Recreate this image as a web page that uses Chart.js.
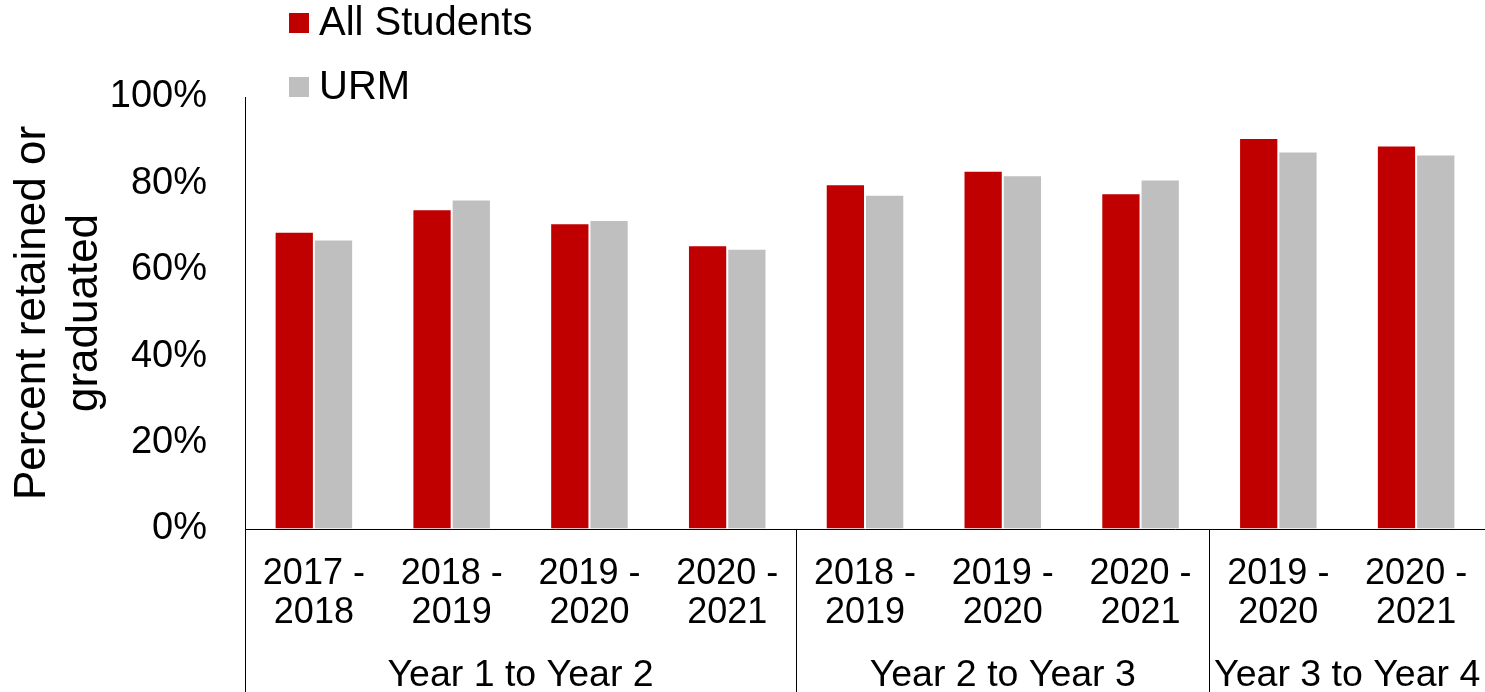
<!DOCTYPE html>
<html>
<head>
<meta charset="utf-8">
<script src="https://cdn.jsdelivr.net/npm/chart.js@4.4.1/dist/chart.umd.min.js"></script>
<style>
  html, body { margin: 0; padding: 0; background: #fff; }
  #wrap { width: 1485px; height: 692px; position: relative; }
</style>
</head>
<body>
<div id="wrap"><canvas id="retentionChart"></canvas></div>
<script>
// categories (academic years) and their cohort groups
const categories = [
  ["2017 -", "2018"], ["2018 -", "2019"], ["2019 -", "2020"], ["2020 -", "2021"],
  ["2018 -", "2019"], ["2019 -", "2020"], ["2020 -", "2021"],
  ["2019 -", "2020"], ["2020 -", "2021"]
];
const groupLabels = ["Year 1 to Year 2", "Year 2 to Year 3", "Year 3 to Year 4"];
const groupSizes = [4, 3, 2];

// percent retained or graduated
const allStudents = [68.8, 74.0, 70.8, 65.7, 79.8, 82.9, 77.7, 90.5, 88.8];
const urm = [67.0, 76.3, 71.5, 64.9, 77.4, 81.9, 80.9, 87.4, 86.7];

const yTicks = [0, 20, 40, 60, 80, 100];

const FONT = '"Liberation Sans", Arial, sans-serif';
Chart.defaults.font.family = FONT;
Chart.defaults.color = '#000';

// group labels under the year labels + vertical separators
const groupAxis = {
  id: 'groupAxis',
  afterDraw(chart) {
    const { ctx, chartArea } = chart;
    const x = chart.scales.x;
    const n = categories.length;
    const edge = i => {
      if (i <= 0) return chartArea.left;
      if (i >= n) return chartArea.right;
      return (x.getPixelForValue(i - 1) + x.getPixelForValue(i)) / 2;
    };
    ctx.save();
    ctx.strokeStyle = '#000';
    ctx.lineWidth = 1;
    ctx.fillStyle = '#000';
    ctx.font = '37.5px ' + FONT;
    ctx.textAlign = 'center';
    ctx.textBaseline = 'middle';
    let start = 0;
    groupSizes.forEach((size, g) => {
      const x0 = edge(start);
      const x1 = edge(start + size);
      const px = Math.round(x0) + 0.5;
      ctx.beginPath();
      ctx.moveTo(px, chartArea.bottom);
      ctx.lineTo(px, chart.height);
      ctx.stroke();
      ctx.fillText(groupLabels[g], (x0 + x1) / 2, 676);
      start += size;
    });
    ctx.restore();
  }
};

// stacked legend in the top-left corner
const stackedLegend = {
  id: 'stackedLegend',
  afterDraw(chart) {
    const { ctx } = chart;
    ctx.save();
    ctx.font = '40px ' + FONT;
    ctx.textBaseline = 'middle';
    ctx.textAlign = 'left';
    chart.data.datasets.forEach((ds, i) => {
      const top = 13 + i * 64;
      ctx.fillStyle = ds.backgroundColor;
      ctx.fillRect(289, top, 20, 20);
      ctx.fillStyle = '#000';
      ctx.fillText(ds.label, 319, top + 11);
    });
    ctx.restore();
  }
};

new Chart(document.getElementById('retentionChart').getContext('2d'), {
  type: 'bar',
  data: {
    labels: categories,
    datasets: [
      {
        label: 'All Students',
        data: allStudents,
        backgroundColor: '#C00000',
        borderColor: '#ffffff',
        borderWidth: 1,
        categoryPercentage: 0.57,
        barPercentage: 1
      },
      {
        label: 'URM',
        data: urm,
        backgroundColor: '#BFBFBF',
        borderColor: '#ffffff',
        borderWidth: 1,
        categoryPercentage: 0.57,
        barPercentage: 1
      }
    ]
  },
  options: {
    responsive: true,
    maintainAspectRatio: false,
    animation: false,
    layout: { padding: { top: 97, right: 0, bottom: 0, left: 0 } },
    plugins: {
      legend: { display: false },
      tooltip: { enabled: false }
    },
    scales: {
      x: {
        grid: { display: true, drawOnChartArea: false, drawTicks: false },
        border: { display: true, color: '#000', width: 1 },
        ticks: {
          font: { size: 36, lineHeight: 1.08 },
          padding: 26,
          maxRotation: 0,
          autoSkip: false
        },
        afterFit(scale) {
          scale.height = 163;
          // plot runs right up to the canvas edge
          scale.paddingLeft = 0;
          scale.paddingRight = 0;
        }
      },
      y: {
        min: 0,
        max: 100,
        grid: { display: true, drawOnChartArea: false, drawTicks: false },
        border: { display: true, color: '#000', width: 1 },
        afterBuildTicks(scale) { scale.ticks = yTicks.map(v => ({ value: v })); },
        ticks: {
          font: { size: 38 },
          padding: 38,
          callback: v => v + '%'
        },
        title: {
          display: true,
          text: ['Percent retained or', 'graduated'],
          font: { size: 44, lineHeight: 1.2 },
          padding: { top: 6, bottom: 0 }
        },
        afterFit(scale) { scale.width = 245; }
      }
    }
  },
  plugins: [groupAxis, stackedLegend]
});
</script>
</body>
</html>
